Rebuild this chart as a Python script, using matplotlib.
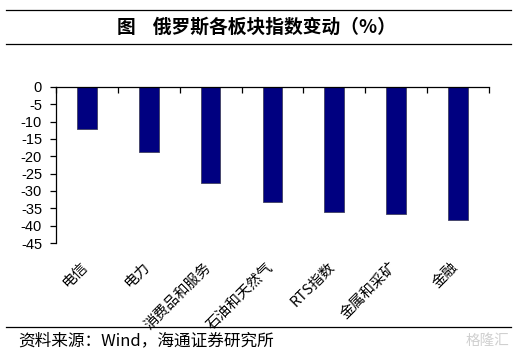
"""
俄罗斯各板块指数变动（%）
"""
import matplotlib.pyplot as plt
from matplotlib.lines import Line2D
import numpy as np

plt.rcParams['font.family'] = ['Noto Sans CJK SC', 'DejaVu Sans']

# 板块及涨跌幅（%）
sectors = ['电信', '电力', '消费品和服务', '石油和天然气', 'RTS指数', '金属和采矿', '金融']
changes = [-12.2, -18.8, -27.6, -33.2, -36.0, -36.6, -38.4]
yticks = list(range(0, -50, -5))

title = '图    俄罗斯各板块指数变动（%）'
source = '资料来源：Wind，海通证券研究所'

fig = plt.figure(figsize=(5.28, 3.59), dpi=100)
ax = fig.add_axes([0.106, 0.3231, 0.820, 0.4346])

x = np.arange(len(sectors))
ax.bar(x, changes, width=0.32, color='#000080', edgecolor='#404060', linewidth=0.6)

ax.set_xlim(-0.5, len(sectors) - 0.5)
ax.set_ylim(-45, 0)

# 坐标轴：顶部横轴（y=0）和左侧纵轴
for side in ['right', 'bottom']:
    ax.spines[side].set_visible(False)
ax.spines['top'].set_linewidth(0.9)
ax.spines['left'].set_linewidth(0.9)

ax.set_xticks(np.arange(-0.5, len(sectors), 1.0))
ax.tick_params(axis='x', bottom=False, top=True, labelbottom=False, labeltop=False,
               direction='in', length=4, width=0.9)
ax.set_yticks(yticks)
ax.set_yticklabels([str(v) for v in yticks], family='Liberation Sans', fontsize=10.5)
ax.tick_params(axis='y', direction='out', length=4, width=0.9, pad=6)

# 斜排的类别标签
trans = ax.get_xaxis_transform()
for i, name in enumerate(sectors):
    ax.text(i - 0.03, -0.14, name, transform=trans, rotation=45,
            rotation_mode='anchor', ha='right', va='center', fontsize=10.5)

# 标题、横线与资料来源
for yy in [1 - 10 / 359, 1 - 44 / 359, 1 - 327 / 359]:
    fig.add_artist(Line2D([6 / 528, 511 / 528], [yy, yy], transform=fig.transFigure,
                          color='black', linewidth=0.9))
fig.text(0.485, 1 - 27 / 359, title, ha='center', va='center', fontsize=13.5,
         fontweight='bold')
fig.text(18 / 528, 1 - 341 / 359, source, ha='left', va='center', fontsize=12)
fig.text(0.965, 1 - 341 / 359, '格隆汇', ha='right', va='center', fontsize=10.5,
         color='#d0d0d0')

plt.savefig('out.png', dpi=100)
